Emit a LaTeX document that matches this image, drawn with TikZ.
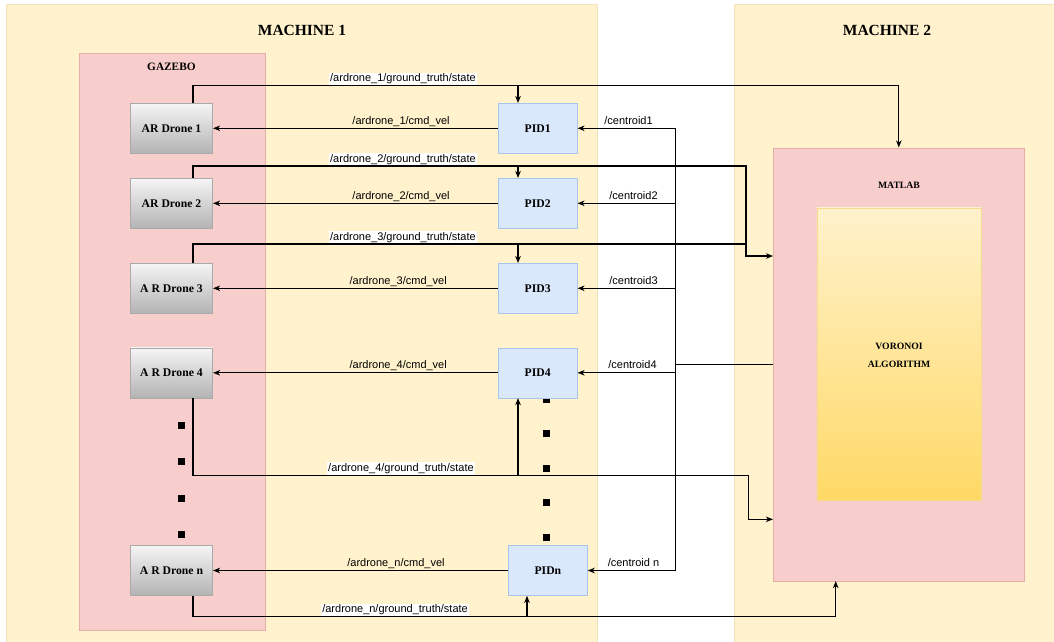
\documentclass[tikz,border=0pt]{standalone}
\usepackage{fontspec}
\setmainfont{Liberation Serif}
\setsansfont{Liberation Sans}
\usetikzlibrary{calc, positioning}
\usetikzlibrary{arrows.meta}

\tikzset{
  panel/.style={draw=panelline, fill=panelfill, line width=0.6pt, anchor=north west, inner sep=0pt},
  simbox/.style={draw=redline, fill=redfill, line width=0.6pt, anchor=north west, inner sep=0pt},
  algobox/.style={draw=algoline, top color=algotop, bottom color=algobottom, line width=0.6pt, anchor=north west, inner sep=0pt},
  dronebox/.style={draw=droneline, top color=dronetop, bottom color=dronebottom, line width=0.6pt,
    minimum width=82.5pt, minimum height=50pt, inner sep=0pt, font=\bfseries\fontsize{11.7}{14}\selectfont},
  pidbox/.style={draw=pidline, fill=pidfill, line width=0.6pt,
    minimum width=79pt, minimum height=50pt, inner sep=0pt, font=\bfseries\fontsize{11.7}{14}\selectfont},
  title/.style={font=\bfseries\fontsize{15.5}{18}\selectfont},
  topic/.style={font=\sffamily\fontsize{11}{13}\selectfont, inner sep=1pt, anchor=base, yshift=4pt},
  gtlabel/.style={topic, fill=white},
  wire/.style={line width=1.3pt},
  flow/.style={line width=1.3pt, -{Stealth[length=7pt, width=5.5pt, inset=2pt]}},
  dot/.style={fill=black, minimum size=7pt, inner sep=0pt},
}

\begin{document}
\begin{tikzpicture}[x=1pt,y=-1pt]
\definecolor{panelfill}{HTML}{FFF2CC}
\definecolor{panelline}{HTML}{EFE2B8}
\definecolor{redfill}{HTML}{F8CECC}
\definecolor{redline}{HTML}{E6AEAB}
\definecolor{pidfill}{HTML}{DAE8FC}
\definecolor{pidline}{HTML}{A9C4EB}
\definecolor{dronetop}{HTML}{F5F5F5}
\definecolor{dronebottom}{HTML}{B3B3B3}
\definecolor{droneline}{HTML}{AAAAAA}
\definecolor{algotop}{HTML}{FFF2CC}
\definecolor{algobottom}{HTML}{FFD966}
\definecolor{algoline}{HTML}{F5DC8C}
\def\dronex{171.5}
\def\pidx{537.7}
\useasboundingbox (0,0) rectangle (1054,641);

% machines and frames
\node[panel, minimum width=591pt, minimum height=645pt] (machineA) at (6,4.3) {};
\node[panel, minimum width=330pt, minimum height=645pt] (machineB) at (734,4.3) {};
\node[title] (titleA) at (302,30) {MACHINE 1};
\node[title] (titleB) at (887,30) {MACHINE 2};

\node[simbox, minimum width=186pt, minimum height=577.5pt] (gazebo) at (78.5,52.5) {};
\node[font=\bfseries\fontsize{11.3}{13}\selectfont] (gazeboname) at (171.4,66.7) {GAZEBO};

\node[simbox, minimum width=251pt, minimum height=433pt] (matlab) at (773,147.5) {};
\node[font=\bfseries\fontsize{9.7}{12}\selectfont] (matlabname) at (899,185) {MATLAB};
\node[algobox, minimum width=164.5pt, minimum height=292pt] (voronoi) at (816.5,207.5) {};
\node[font=\bfseries\fontsize{9.7}{18}\selectfont, align=center] (voronoiname) at (899,355.5) {VORONOI\\ALGORITHM};

% dots
\foreach \y [count=\i] in {425.2,461.8,498,534.2}
  \node[dot] (dotL\i) at (181.8,\y) {};
\foreach \y [count=\i] in {399.2,433.7,468.2,502.7,537.2}
  \node[dot] (dotR\i) at (546.3,\y) {};

% drones and controllers
\node[dronebox] (drone1) at (\dronex,128.3) {AR Drone 1};
\node[dronebox] (drone2) at (\dronex,203.3) {AR Drone 2};
\node[dronebox] (drone3) at (\dronex,288.3) {A R Drone 3};
\node[dronebox] (drone4) at (\dronex,372.8) {A R Drone 4};
\node[dronebox] (dronen) at (\dronex,570.5) {A R Drone n};

\node[pidbox] (pid1) at (\pidx,128.3) {PID1};
\node[pidbox] (pid2) at (\pidx,203.3) {PID2};
\node[pidbox] (pid3) at (\pidx,288.3) {PID3};
\node[pidbox] (pid4) at (\pidx,372.8) {PID4};
\node[pidbox] (pidn) at (547.9,570.5) {PIDn};

\coordinate (gtTap) at (193,0);
\coordinate (pidTap) at (518,0);
\coordinate (pidTapN) at (527,0);
\coordinate (busX) at (675.7,0);
\coordinate (jogA) at (746,0);
\coordinate (jogB) at (748.5,0);
\coordinate (jogN) at (835.7,0);
\coordinate (gtA) at (193,85.7);
\coordinate (gtB) at (193,166);
\coordinate (gtC) at (193,244);
\coordinate (gtD) at (193,475.3);
\coordinate (gtN) at (193,616.7);
\coordinate (inA) at (0,256);
\coordinate (inB) at (0,519.3);

% velocity commands
\draw[flow] (pid1.west) -- node[topic, pos=0.34] {/ardrone\_1/cmd\_vel} (drone1.east);
\draw[flow] (pid2.west) -- node[topic, pos=0.34] {/ardrone\_2/cmd\_vel} (drone2.east);
\draw[flow] (pid3.west) -- node[topic, pos=0.35] {/ardrone\_3/cmd\_vel} (drone3.east);
\draw[flow] (pid4.west) -- node[topic, pos=0.35] {/ardrone\_4/cmd\_vel} (drone4.east);
\draw[flow] (pidn.west) -- node[topic, pos=0.38] {/ardrone\_n/cmd\_vel} (dronen.east);

% ground truth states
\draw[wire] (drone1.north -| gtA) -- (gtA) -- node[gtlabel, pos=0.646] {/ardrone\_1/ground\_truth/state} (gtA -| pidTap);
\draw[flow] (gtA -| pidTap) -- (gtA -| matlab.north) -- (matlab.north);
\draw[flow] (gtA -| pidTap) -- (pid1.north -| pidTap);

\draw[wire] (drone2.north -| gtB) -- (gtB) -- node[gtlabel, pos=0.646] {/ardrone\_2/ground\_truth/state} (gtB -| pidTap);
\draw[flow] (gtB -| pidTap) -- (gtB -| jogA) -- (inA -| jogA) -- (matlab.west |- inA);
\draw[flow] (gtB -| pidTap) -- (pid2.north -| pidTap);

\draw[wire] (drone3.north -| gtC) -- (gtC) -- node[gtlabel, pos=0.646] {/ardrone\_3/ground\_truth/state} (gtC -| pidTap);
\draw[wire] (gtC -| pidTap) -- (gtC -| jogA);
\draw[flow] (gtC -| pidTap) -- (pid3.north -| pidTap);

\draw[wire] (drone4.south -| gtD) -- (gtD) -- node[gtlabel, pos=0.64] {/ardrone\_4/ground\_truth/state} (gtD -| pidTap);
\draw[flow] (gtD -| pidTap) -- (gtD -| jogB) -- (inB -| jogB) -- (matlab.west |- inB);
\draw[flow] (gtD -| pidTap) -- (pid4.south -| pidTap);

\draw[wire] (dronen.south -| gtN) -- (gtN) -- node[gtlabel, pos=0.605] {/ardrone\_n/ground\_truth/state} (gtN -| pidTapN);
\draw[flow] (gtN -| pidTapN) -- (gtN -| jogN) -- (matlab.south -| jogN);
\draw[flow] (gtN -| pidTapN) -- (pidn.south -| pidTapN);

% centroids
\draw[wire] (matlab.west) -- (matlab.west -| busX);
\draw[wire] (pid1.east -| busX) -- (pidn.east -| busX);
\draw[flow] (pid1.east -| busX) -- node[topic, pos=0.48] {/centroid1} (pid1.east);
\draw[flow] (pid2.east -| busX) -- node[topic, pos=0.43] {/centroid2} (pid2.east);
\draw[flow] (pid3.east -| busX) -- node[topic, pos=0.43] {/centroid3} (pid3.east);
\draw[flow] (pid4.east -| busX) -- node[topic, pos=0.44] {/centroid4} (pid4.east);
\draw[flow] (pidn.east -| busX) -- node[topic, pos=0.48] {/centroid n} (pidn.east);
\end{tikzpicture}
\end{document}
